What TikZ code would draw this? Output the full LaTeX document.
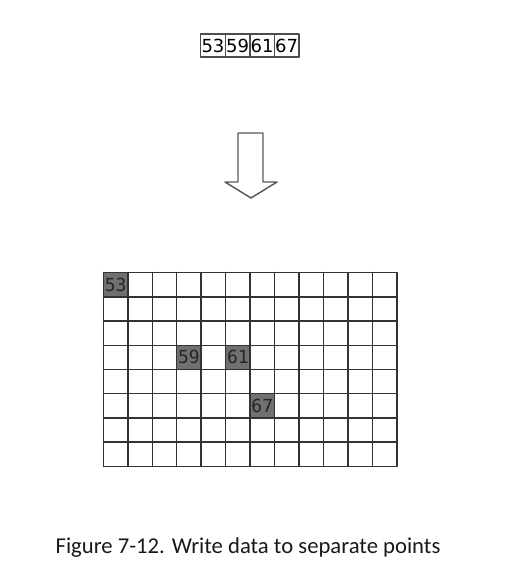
\documentclass[tikz,border=0pt]{standalone}
\usepackage{fontspec}
\setmainfont{Carlito}
\newfontfamily\cellfont{DejaVu Sans Mono}
\newfontfamily\boxfont{DejaVu Sans}
\usetikzlibrary{positioning}
\begin{document}
\begin{tikzpicture}[x=0.75pt,y=-0.75pt,line join=round,line cap=round,
	numbox/.style={draw=black!70,line width=1.1pt,outer sep=0pt,inner sep=0pt,minimum width=18.4pt,minimum height=17.4pt,font=\boxfont\fontsize{13.5}{14}\selectfont},
	hit/.style={fill=black!56,inner sep=0pt,minimum width=18.3pt,minimum height=18.2pt,font=\cellfont\fontsize{13.5}{14}\selectfont,text=black!85},
	gridline/.style={draw=black!80,line width=1.1pt}]
	\def\gx{103.4}
	\def\gy{272.7}
	\def\cw{24.45}
	\def\ch{24.2}
	\useasboundingbox (0,0) rectangle (509,583);
	\node[numbox] (n53) at (213,45.5) {53};
	\node[numbox,right=0pt of n53] (n59) {59};
	\node[numbox,right=0pt of n59] (n61) {61};
	\node[numbox,right=0pt of n61] (n67) {67};
	\draw[draw=black!65,line width=1.1pt,fill=white] (238,133)--(263,133)--(263,182)--(277,182)--(251,198)--(225,182)--(238,182)--cycle;
	\node[hit] (c53) at ({\gx+0.5*\cw},{\gy+0.5*\ch}) {53};
	\node[hit] (c59) at ({\gx+3.5*\cw},{\gy+3.5*\ch}) {59};
	\node[hit] (c61) at ({\gx+5.5*\cw},{\gy+3.5*\ch}) {61};
	\node[hit] (c67) at ({\gx+6.5*\cw},{\gy+5.5*\ch}) {67};
	\foreach \i in {0,...,12}
		\draw[gridline] ({\gx+\i*\cw},\gy) -- ++(0,{8*\ch});
	\foreach \j in {0,...,8}
		\draw[gridline] (\gx,{\gy+\j*\ch}) -- ++({12*\cw},0);
	\node[anchor=base,font=\fontsize{17}{20}\selectfont,text=black!90] (cap) at (248,553) {Figure 7-12. Write data to separate points};
\end{tikzpicture}
\end{document}
